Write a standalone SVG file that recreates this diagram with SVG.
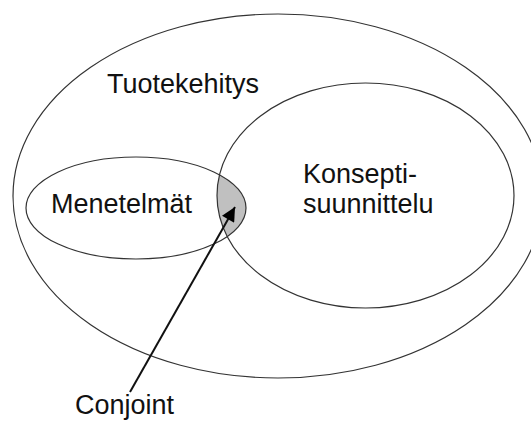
<svg xmlns="http://www.w3.org/2000/svg" width="531" height="421" viewBox="0 0 531 421">
<style>
.ell{fill:none;stroke:#333;stroke-width:1.2}
.lbl{font-family:"Liberation Sans",Arial,sans-serif;font-size:27px;fill:#111}
.conn{stroke:#111;stroke-width:2;fill:none}
</style>
<defs>
<clipPath id="clipLeft"><ellipse cx="136" cy="208" rx="110" ry="51"/></clipPath>
<marker id="ah" viewBox="0 0 10 10" refX="10" refY="5" markerWidth="8" markerHeight="7" markerUnits="strokeWidth" orient="auto">
<path d="M0,0 L10,5 L0,10 z" fill="#000"/>
</marker>
</defs>
<rect width="531" height="421" fill="#fff"/>
<g id="overlap">
<ellipse cx="365.5" cy="195.5" rx="148.5" ry="112.5" fill="#c0c0c0" clip-path="url(#clipLeft)"/>
</g>
<g id="tuotekehitys">
<ellipse class="ell" cx="278" cy="196" rx="265" ry="182"/>
<text class="lbl" x="107" y="93">Tuotekehitys</text>
</g>
<g id="menetelmat">
<ellipse class="ell" cx="136" cy="208" rx="110" ry="51"/>
<text class="lbl" x="51" y="213">Menetelmät</text>
</g>
<g id="konseptisuunnittelu">
<ellipse class="ell" cx="365.5" cy="195.5" rx="148.5" ry="112.5"/>
<text class="lbl" x="303" y="183">Konsepti-</text>
<text class="lbl" x="303" y="213">suunnittelu</text>
</g>
<g id="conjoint">
<text class="lbl" x="75" y="414">Conjoint</text>
</g>
<g id="connectors">
<line class="conn" x1="130" y1="392" x2="235" y2="207" marker-end="url(#ah)"/>
</g>
</svg>
